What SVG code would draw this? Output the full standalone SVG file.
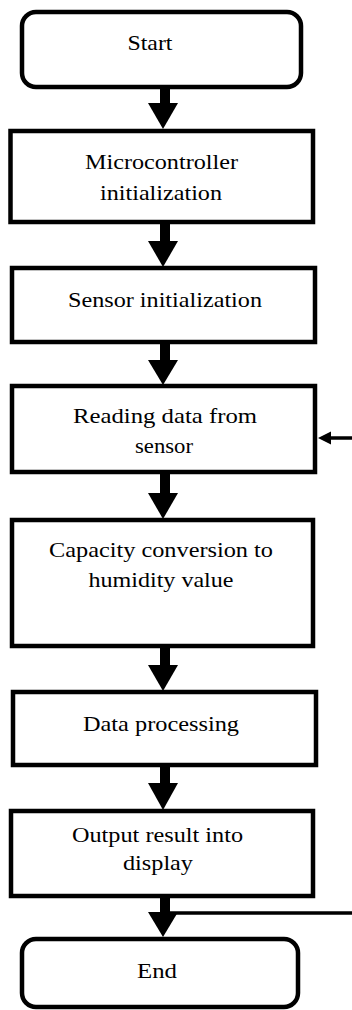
<svg xmlns="http://www.w3.org/2000/svg" width="352" height="1010" viewBox="0 0 352 1010">
<style>
.box{fill:#fff;stroke:#000;stroke-width:4.5}
.t{font-family:"Liberation Serif","Times New Roman",serif;font-size:22px;fill:#000;text-anchor:middle}
.shaft{fill:#000}
.head{fill:#000}
.fb{stroke:#000;stroke-width:3.5;fill:none}
</style>
<rect width="352" height="1010" fill="#fff"/>
<g id="connectors">
  <rect class="shaft" x="160" y="87" width="10" height="20"/><polygon class="head" points="148,103 178,103 163,129"/>
  <rect class="shaft" x="160" y="222" width="10" height="22"/><polygon class="head" points="148,241 178,241 163,267"/>
  <rect class="shaft" x="160" y="342" width="10" height="22"/><polygon class="head" points="148,360 178,360 163,385"/>
  <rect class="shaft" x="160" y="472" width="10" height="24"/><polygon class="head" points="148,493 178,493 163,519"/>
  <rect class="shaft" x="160" y="646" width="10" height="22"/><polygon class="head" points="148,665 178,665 163,691"/>
  <rect class="shaft" x="160" y="765" width="10" height="20"/><polygon class="head" points="148,783 178,783 163,810"/>
  <rect class="shaft" x="160" y="896" width="10" height="20"/><polygon class="head" points="148,912 178,912 163,937"/>
  <line class="fb" x1="352" y1="438" x2="328" y2="438"/>
  <polygon class="head" points="318,438 331,431.5 331,444.5"/>
  <line class="fb" x1="352" y1="913" x2="168" y2="913"/>
</g>
<g id="start"><rect class="box" x="22" y="12" width="279" height="75" rx="14"/><text class="t" x="150" y="50" textLength="45" lengthAdjust="spacingAndGlyphs">Start</text></g>
<g id="micro"><rect class="box" x="10.5" y="131" width="302.5" height="91"/><text class="t" x="161.5" y="169" textLength="153" lengthAdjust="spacingAndGlyphs">Microcontroller</text><text class="t" x="161" y="200" textLength="122" lengthAdjust="spacingAndGlyphs">initialization</text></g>
<g id="sensor"><rect class="box" x="12" y="268" width="303" height="74"/><text class="t" x="165" y="307" textLength="194" lengthAdjust="spacingAndGlyphs">Sensor initialization</text></g>
<g id="reading"><rect class="box" x="12" y="386" width="303" height="86"/><text class="t" x="165" y="423" textLength="184" lengthAdjust="spacingAndGlyphs">Reading data from</text><text class="t" x="164" y="453" textLength="58" lengthAdjust="spacingAndGlyphs">sensor</text></g>
<g id="capacity"><rect class="box" x="12" y="520" width="301" height="126"/><text class="t" x="161" y="557" textLength="224" lengthAdjust="spacingAndGlyphs">Capacity conversion to</text><text class="t" x="161" y="587" textLength="145" lengthAdjust="spacingAndGlyphs">humidity value</text></g>
<g id="processing"><rect class="box" x="13" y="692" width="303" height="73"/><text class="t" x="161" y="731" textLength="156" lengthAdjust="spacingAndGlyphs">Data processing</text></g>
<g id="output"><rect class="box" x="11" y="811" width="302" height="85"/><text class="t" x="157.5" y="842" textLength="171" lengthAdjust="spacingAndGlyphs">Output result into</text><text class="t" x="158" y="870" textLength="70" lengthAdjust="spacingAndGlyphs">display</text></g>
<g id="end"><rect class="box" x="22" y="939" width="276" height="68" rx="14"/><text class="t" x="157" y="978" textLength="40" lengthAdjust="spacingAndGlyphs">End</text></g>
</svg>
